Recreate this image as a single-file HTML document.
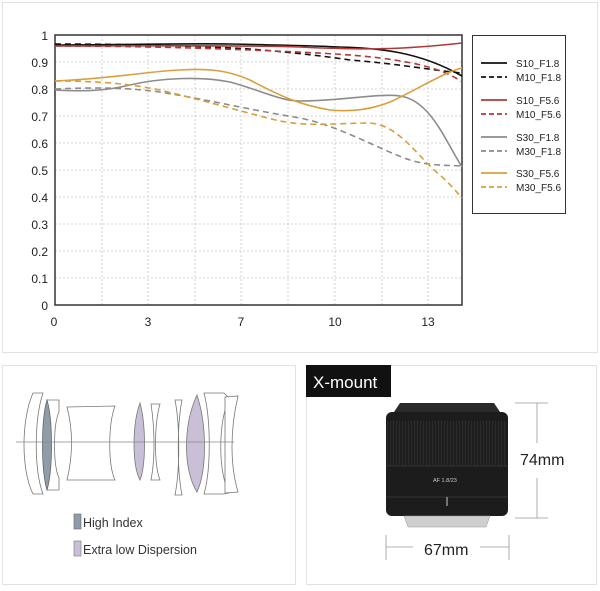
<!DOCTYPE html>
<html><head><meta charset="utf-8"><style>
body{margin:0;background:#fff;width:600px;height:586px;overflow:hidden;font-family:"Liberation Sans",sans-serif;}
</style></head><body>
<svg width="600" height="586" viewBox="0 0 600 586" xmlns="http://www.w3.org/2000/svg" font-family="Liberation Sans, sans-serif">
<defs><pattern id="rib" width="3" height="10" patternUnits="userSpaceOnUse"><rect width="3" height="10" fill="#1e1e1e"/><rect width="1" height="10" fill="#2c2c2c"/></pattern></defs>
<rect x="2.5" y="2.5" width="595" height="350" fill="#fff" stroke="#e2e2e2"/>
<g stroke="#c8c8c8" stroke-width="0.8" stroke-dasharray="2,2">
<line x1="55" y1="62" x2="462" y2="62"/><line x1="55" y1="89" x2="462" y2="89"/><line x1="55" y1="116" x2="462" y2="116"/><line x1="55" y1="143" x2="462" y2="143"/><line x1="55" y1="170" x2="462" y2="170"/><line x1="55" y1="197" x2="462" y2="197"/><line x1="55" y1="224" x2="462" y2="224"/><line x1="55" y1="251" x2="462" y2="251"/><line x1="55" y1="278" x2="462" y2="278"/>
<line x1="102" y1="35" x2="102" y2="305"/><line x1="148" y1="35" x2="148" y2="305"/><line x1="195" y1="35" x2="195" y2="305"/><line x1="241" y1="35" x2="241" y2="305"/><line x1="288" y1="35" x2="288" y2="305"/><line x1="335" y1="35" x2="335" y2="305"/><line x1="382" y1="35" x2="382" y2="305"/><line x1="428" y1="35" x2="428" y2="305"/>
</g>
<rect x="55" y="35" width="407" height="270" fill="none" stroke="#333" stroke-width="1.5"/>
<g font-size="12" fill="#222" text-anchor="end">
<text x="48" y="40">1</text><text x="48" y="67">0.9</text><text x="48" y="94">0.8</text><text x="48" y="121">0.7</text><text x="48" y="148">0.6</text><text x="48" y="175">0.5</text><text x="48" y="202">0.4</text><text x="48" y="229">0.3</text><text x="48" y="256">0.2</text><text x="48" y="283">0.1</text><text x="48" y="310">0</text>
</g>
<g font-size="12" fill="#222" text-anchor="middle">
<text x="54" y="326">0</text><text x="148" y="326">3</text><text x="241" y="326">7</text><text x="335" y="326">10</text><text x="428" y="326">13</text>
</g>
<g fill="none" stroke-width="1.6">
<path d="M55,45 C120,45 190,43 230,44 C280,45 320,46 340,47 C380,48 420,52 462,76" stroke="#111"/>
<path d="M55,44 C120,44 200,46 250,49 C300,53 330,57 350,60 C400,64 430,70 462,73" stroke="#111" stroke-dasharray="6,4"/>
<path d="M55,46 C150,46 250,45 300,47 C360,50 400,50 462,43" stroke="#b03a3a"/>
<path d="M55,46 C130,46 200,48 250,50 C300,52 350,54 380,58 C420,63 445,70 462,82" stroke="#b03a3a" stroke-dasharray="6,4"/>
<path d="M55,90 C90,92 110,90 130,85 C160,78 200,76 230,82 C260,90 280,101 300,101 C340,101 380,93 400,96 C430,100 445,140 462,167" stroke="#8c8c8c"/>
<path d="M55,89 C100,87 130,88 160,92 C210,100 250,110 300,118 C340,126 380,150 410,160 C430,166 445,165 462,166" stroke="#8c8c8c" stroke-dasharray="6,4"/>
<path d="M55,81 C110,79 150,71 180,70 C210,68 230,71 250,80 C280,96 300,105 330,110 C350,112 370,110 390,102 C420,88 445,72 462,68" stroke="#d9a03a"/>
<path d="M55,81 C100,81 130,84 160,90 C210,102 250,114 280,121 C310,127 340,123 370,123 C400,125 420,160 440,175 C450,184 455,190 462,198" stroke="#d9a03a" stroke-dasharray="6,4"/>
</g>
<rect x="472.5" y="35.5" width="93" height="178" fill="#fff" stroke="#333"/>
<g stroke-width="1.8">
<line x1="481" y1="63" x2="507" y2="63" stroke="#111"/><line x1="481" y1="77" x2="507" y2="77" stroke="#111" stroke-dasharray="5,3"/>
<line x1="481" y1="100" x2="507" y2="100" stroke="#b03a3a"/><line x1="481" y1="114" x2="507" y2="114" stroke="#b03a3a" stroke-dasharray="5,3"/>
<line x1="481" y1="137" x2="507" y2="137" stroke="#8c8c8c"/><line x1="481" y1="151" x2="507" y2="151" stroke="#8c8c8c" stroke-dasharray="5,3"/>
<line x1="481" y1="173" x2="507" y2="173" stroke="#d9a03a"/><line x1="481" y1="187" x2="507" y2="187" stroke="#d9a03a" stroke-dasharray="5,3"/>
</g>
<g font-size="10" fill="#222">
<text x="516" y="67">S10_F1.8</text><text x="516" y="81">M10_F1.8</text><text x="516" y="104">S10_F5.6</text><text x="516" y="118">M10_F5.6</text><text x="516" y="141">S30_F1.8</text><text x="516" y="155">M30_F1.8</text><text x="516" y="177">S30_F5.6</text><text x="516" y="191">M30_F5.6</text>
</g>
<rect x="2.5" y="365.5" width="293" height="219" fill="#fff" stroke="#e2e2e2"/>
<rect x="306.5" y="365.5" width="290" height="219" fill="#fff" stroke="#e2e2e2"/>
<g fill="#fff" stroke="#777" stroke-width="0.8">
<path d="M33,393 L43,393 C34,420 34,470 43,494 L33,494 C21,470 21,420 33,393Z"/>
<path d="M47,400 L59,400 L59,412 C53,425 53,465 59,478 L59,490 L47,490Z"/>
<path d="M67,407 L115,406 C108,425 108,465 115,480 L67,480 C73,455 73,430 67,407Z"/>
<path d="M151,404 L160,404 C154,425 154,465 160,480 L151,480 C155,460 155,430 151,404Z"/>
<path d="M175,400 L182,400 C177,425 177,470 182,495 L175,495 C180,470 180,425 175,400Z"/>
<path d="M204,393 L224,393 L229,398 C218,425 218,470 229,493 L224,494 L204,494 C211,470 211,420 204,393Z"/>
<path d="M225,397 L238,396 C230,430 230,465 238,492 L225,493Z"/>
</g>
<path d="M47,400 C41,420 41,470 47,490 C53,470 53,420 47,400Z" fill="#8f9daa" stroke="#666" stroke-width="0.8"/>
<path d="M140,403 C132,425 132,465 140,480 C146,465 146,425 140,403Z" fill="#c9bfd6" stroke="#777" stroke-width="0.8"/>
<path d="M197,395 C183,425 183,470 197,492 C207,470 207,425 197,395Z" fill="#c9bfd6" stroke="#777" stroke-width="0.8"/>
<line x1="16" y1="442" x2="234" y2="442" stroke="#888" stroke-width="0.8"/>
<rect x="74" y="514" width="7" height="15" fill="#8f9daa" stroke="#666" stroke-width="0.6"/>
<rect x="74" y="541" width="7" height="15" fill="#c9bfd6" stroke="#777" stroke-width="0.6"/>
<text x="83" y="527" font-size="12.5" fill="#333">High Index</text>
<text x="83" y="554" font-size="12.5" fill="#333">Extra low Dispersion</text>
<rect x="306" y="365" width="85" height="32" fill="#111"/>
<text x="313" y="388" font-size="17" fill="#fff">X-mount</text>
<path d="M400,403 L494,403 L500,412 L394,412Z" fill="#2a2a2a"/>
<rect x="386" y="412" width="122" height="104" rx="6" fill="#1c1c1c"/>
<rect x="387" y="421" width="120" height="45" fill="url(#rib)"/>
<g stroke="#333" stroke-width="1"><line x1="386" y1="466" x2="508" y2="466"/><line x1="386" y1="497" x2="508" y2="497"/></g>
<line x1="447" y1="497" x2="447" y2="506" stroke="#ccc" stroke-width="1"/>
<text x="433" y="482" font-size="5.5" fill="#ccc">AF 1.8/23</text>
<path d="M404,516 L490,516 L486,527 L408,527Z" fill="#cfcfcf" stroke="#999" stroke-width="0.5"/>
<g stroke="#999" stroke-width="0.8">
<line x1="515" y1="403" x2="548" y2="403"/><line x1="515" y1="518" x2="548" y2="518"/><line x1="537" y1="403" x2="537" y2="443"/><line x1="537" y1="478" x2="537" y2="518"/>
<line x1="386" y1="535" x2="386" y2="560"/><line x1="509" y1="535" x2="509" y2="560"/><line x1="386" y1="547" x2="413" y2="547"/><line x1="480" y1="547" x2="509" y2="547"/>
</g>
<text x="520" y="465" font-size="16" fill="#222">74mm</text>
<text x="424" y="555" font-size="16" fill="#222">67mm</text>
</svg>
</body></html>
